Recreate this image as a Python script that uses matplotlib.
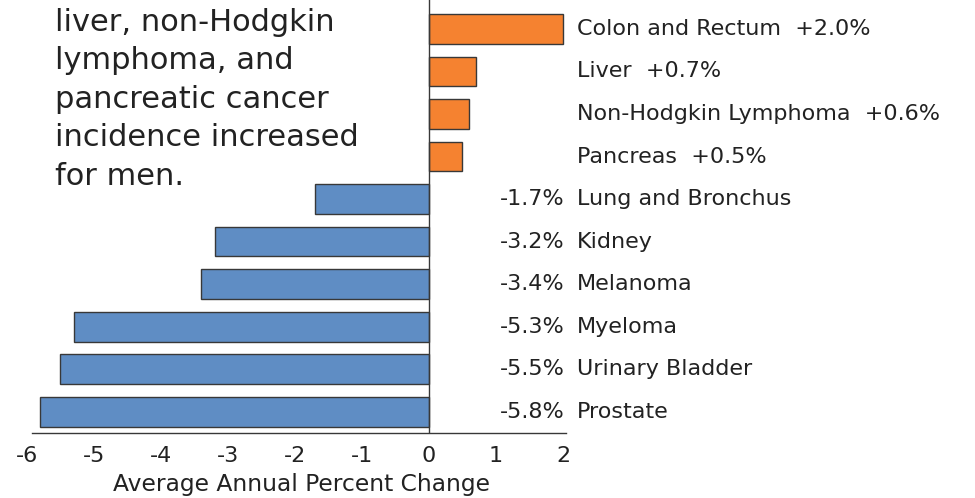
import matplotlib
matplotlib.use("Agg")
import matplotlib.pyplot as plt

plt.rcParams['font.family'] = ['DejaVu Sans']
plt.rcParams['axes.unicode_minus'] = False

# bottom to top
sites = ['Prostate', 'Urinary Bladder', 'Myeloma', 'Melanoma', 'Kidney',
         'Lung and Bronchus', 'Pancreas', 'Non-Hodgkin Lymphoma', 'Liver',
         'Colon and Rectum']
apc = [-5.8, -5.5, -5.3, -3.4, -3.2, -1.7, 0.5, 0.6, 0.7, 2.0]
xticks = [-6, -5, -4, -3, -2, -1, 0, 1, 2]

note_lines = ['liver, non-Hodgkin', 'lymphoma, and', 'pancreatic cancer',
              'incidence increased', 'for men.']

orange = '#F58230'
blue = '#5F8DC4'
ink = '#222222'
edge = '#383838'

fig = plt.figure(figsize=(9.75, 4.98), dpi=100)
ax = fig.add_axes([27 / 975, 0.1305, 539 / 975, 0.8695])

ypos = list(range(len(sites)))
colors = [orange if v > 0 else blue for v in apc]
ax.barh(ypos, apc, height=0.7, color=colors, edgecolor=edge, linewidth=1.0)

ax.set_xlim(-6, 2.045)
ax.set_ylim(-0.5, 9.68)

fs = 16
for y, name, v in zip(ypos, sites, apc):
    if v > 0:
        ax.text(2.21, y, f'{name}  +{v:.1f}%', ha='left', va='center',
                fontsize=fs, color=ink, clip_on=False)
    else:
        ax.text(2.02, y, f'{v:.1f}%', ha='right', va='center',
                fontsize=fs, color=ink, clip_on=False)
        ax.text(2.21, y, name, ha='left', va='center',
                fontsize=fs, color=ink, clip_on=False)

ax.axvline(0, color=edge, linewidth=1.0)
for s in ['top', 'right', 'left']:
    ax.spines[s].set_visible(False)
ax.spines['bottom'].set_color(edge)
ax.spines['bottom'].set_linewidth(1.0)
ax.spines['bottom'].set_bounds(-5.92, 2.045)
ax.set_yticks([])
ax.set_xticks(xticks)
ax.set_xticklabels([str(t) for t in xticks])
ax.tick_params(axis='x', length=0, pad=9, labelsize=fs, labelcolor=ink)
ax.set_xlabel('Average Annual Percent Change', fontsize=16.8, color=ink)
ax.xaxis.set_label_coords(0.509, -0.093)

fig.text(55 / 975, 1 - 8 / 498, '\n'.join(note_lines), ha='left', va='top',
         fontsize=22, color=ink, linespacing=1.41)

fig.savefig('out.png', dpi=100)
